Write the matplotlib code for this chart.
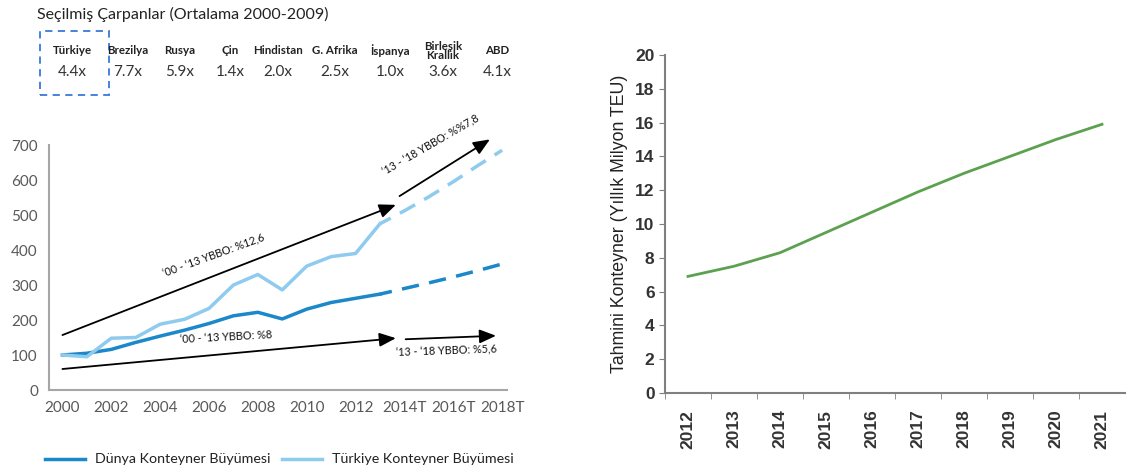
"""Container growth charts: Turkey vs world, and forecast TEU."""

import matplotlib

matplotlib.use("Agg")

import matplotlib.pyplot as plt
from matplotlib.patches import Rectangle

# Multipliers header
countries = ["Türkiye", "Brezilya", "Rusya", "Çin", "Hindistan", "G. Afrika",
             "İspanya", "Birleşik\nKrallık", "ABD"]
multipliers = ["4.4x", "7.7x", "5.9x", "1.4x", "2.0x", "2.5x", "1.0x", "3.6x", "4.1x"]

# Left chart (index, 2000 = 100)
years = list(range(2000, 2014))
world = [100, 105, 116, 136, 154, 171, 190, 212, 222, 203, 231, 250, 262, 274]
turkey = [100, 95, 148, 150, 188, 202, 233, 300, 330, 286, 354, 381, 390, 475]
fc_years = list(range(2013, 2019))
world_fc = [274, 290, 306, 323, 341, 360]
turkey_fc = [475, 512, 552, 595, 641, 685]
left_ticks = list(range(2000, 2019, 2))
left_labels = ["2000", "2002", "2004", "2006", "2008", "2010", "2012",
               "2014T", "2016T", "2018T"]

# Right chart (million TEU per year)
teu_years = ["2012", "2013", "2014", "2015", "2016", "2017", "2018", "2019",
             "2020", "2021"]
teu = [6.9, 7.5, 8.3, 9.5, 10.7, 11.9, 13.0, 14.0, 15.0, 15.9]

DARK = "#1a88c9"
LIGHT = "#8ecbee"
GREEN = "#5ba14f"
SANS = ["Lato", "DejaVu Sans"]
NARROW = ["Liberation Sans Narrow", "Liberation Sans", "DejaVu Sans"]

W, H = 1129, 473
fig = plt.figure(figsize=(W / 100, H / 100), dpi=100)


def px(x, y):
    """Pixel position to figure fraction."""
    return x / W, 1 - y / H


# Header
fig.text(*px(37, 14), "Seçilmiş Çarpanlar (Ortalama 2000-2009)", fontsize=11.5,
         family=SANS, color="#222222", va="center")
centers = [72, 128, 180, 230, 278, 335, 390, 443, 497]
for cx, name, mult in zip(centers, countries, multipliers):
    fig.text(*px(cx, 51), name, fontsize=8.3, family=SANS, ha="center",
             va="center", color="#222222", linespacing=0.75, weight="bold")
    fig.text(*px(cx, 72), mult, fontsize=11, family=SANS, ha="center",
             va="center", color="#333333")
x0, y0 = px(40, 95)
x1, y1 = px(109, 31)
fig.add_artist(Rectangle((x0, y0), x1 - x0, y1 - y0, transform=fig.transFigure,
                         fill=False, edgecolor="#3a78d8", linestyle=(0, (4, 3)),
                         linewidth=1.3))

# Left chart
ax = fig.add_axes([49 / W, 1 - 390 / H, 458 / W, 245 / H])
ax.plot(years, world, color=DARK, lw=2.5, solid_joinstyle="round")
ax.plot(years, turkey, color=LIGHT, lw=2.5, solid_joinstyle="round")
ax.plot(fc_years, world_fc, color=DARK, lw=2.5, linestyle=(1.5, (5, 3)))
ax.plot(fc_years, turkey_fc, color=LIGHT, lw=2.5, linestyle=(1.5, (5, 3)))
ax.set_xlim(1999.45, 2018.2)
ax.set_ylim(0, 700)
ax.set_yticks(range(0, 701, 100))
ax.set_xticks(left_ticks)
ax.set_xticklabels(left_labels)
for side in ("top", "right"):
    ax.spines[side].set_visible(False)
for side in ("left", "bottom"):
    ax.spines[side].set_color("#a6a6a6")
    ax.spines[side].set_linewidth(1.5)
ax.tick_params(length=0, labelsize=11, labelcolor="#595959", pad=8)
for lab in ax.get_xticklabels() + ax.get_yticklabels():
    lab.set_family(SANS)

arrows = [
    ((2000.0, 157), (2013.65, 529)),
    ((2013.8, 554), (2017.5, 716)),
    ((2000.0, 60), (2013.65, 148)),
    ((2014.05, 145), (2017.75, 155)),
]
for start, end in arrows:
    ax.annotate("", xy=end, xytext=start, annotation_clip=False,
                arrowprops=dict(arrowstyle="-|>,head_length=1.0,head_width=0.42",
                                color="black", lw=1.3, shrinkA=0, shrinkB=0))
notes = [
    (2006.2, 383, "‘00 - ‘13 YBBO: %12,6", 20),
    (2015.1, 700, "‘13 - ‘18 YBBO: %%7,8", 30),
    (2006.7, 152, "‘00 - ‘13 YBBO: %8", 3),
    (2015.7, 112, "‘13 - ‘18 YBBO: %5,6", 2),
]
for nx, ny, text, rot in notes:
    ax.text(nx, ny, text, fontsize=7.8, family=SANS, rotation=rot,
            ha="center", va="center", rotation_mode="anchor", clip_on=False,
            color="#111111")

# Legend
for lx, color, label in [(45, DARK, "Dünya Konteyner Büyümesi"),
                         (282, LIGHT, "Türkiye Konteyner Büyümesi")]:
    fx0, fy = px(lx, 459)
    fx1, _ = px(lx + 40, 459)
    fig.add_artist(plt.Line2D([fx0, fx1], [fy, fy], transform=fig.transFigure,
                              color=color, lw=2.5))
    fig.text(*px(lx + 50, 459), label, fontsize=10.3, family=SANS, va="center",
             color="#222222")

# Right chart
ax2 = fig.add_axes([665 / W, 1 - 393 / H, 460 / W, 338 / H])
xs = list(range(len(teu_years)))
ax2.plot(xs, teu, color=GREEN, lw=2)
ax2.set_xlim(-0.5, len(teu_years) - 0.5)
ax2.set_ylim(0, 20)
ax2.set_yticks(range(0, 21, 2))
ax2.set_xticks(xs)
ax2.set_xticklabels(teu_years, rotation=90)
ax2.set_xticks([x - 0.5 for x in xs], minor=True)
ax2.tick_params(axis="x", which="major", length=0, pad=12)
ax2.tick_params(axis="x", which="minor", length=4, color="#808080")
ax2.tick_params(axis="y", length=4, color="#808080")
ax2.tick_params(labelsize=12.5, labelcolor="#333333")
for lab in ax2.get_xticklabels() + ax2.get_yticklabels():
    lab.set_family(NARROW)
    lab.set_weight("bold")
for side in ("top", "right"):
    ax2.spines[side].set_visible(False)
for side in ("left", "bottom"):
    ax2.spines[side].set_color("#808080")
    ax2.spines[side].set_linewidth(1.5)
ax2.set_ylabel("Tahmini Konteyner (Yıllık Milyon TEU)", fontsize=12.8,
               family=["Liberation Sans", "DejaVu Sans"], color="#222222",
               labelpad=5)

fig.savefig("out.png", dpi=100)
